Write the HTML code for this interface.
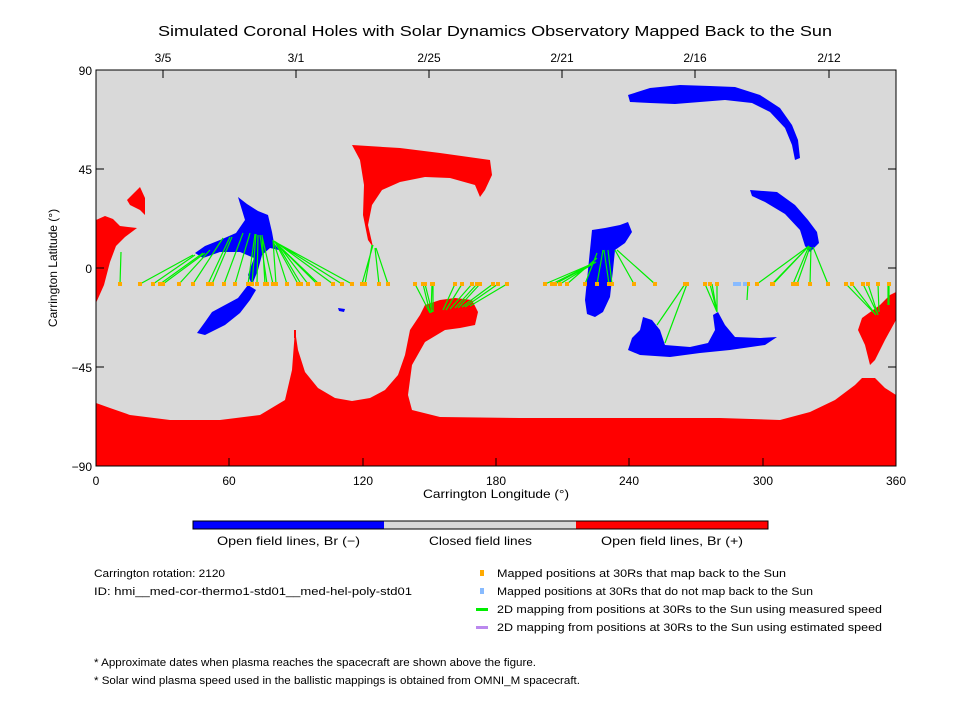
<!DOCTYPE html>
<html><head><meta charset="utf-8"><style>
html,body{margin:0;padding:0;background:#fff;}
svg{display:block;}
text{font-family:"Liberation Sans",sans-serif;fill:#000;}
</style></head><body>
<svg width="960" height="720" viewBox="0 0 960 720" xmlns="http://www.w3.org/2000/svg">
<rect width="960" height="720" fill="#fff"/>
<text x="158" y="36" font-size="15" textLength="674" lengthAdjust="spacingAndGlyphs">Simulated Coronal Holes with Solar Dynamics Observatory Mapped Back to the Sun</text>
<rect x="96" y="70" width="800" height="396" fill="#d9d9d9"/>
<g fill="#ff0000">
<path d="M96,403 L110,408 L130,415 L170,420 L220,420 L260,415 L285,400 L292,370 L295,330 L298,350 L305,372 L318,388 L335,398 L352,401 L370,398 L385,390 L398,375 L405,355 L410,330 L420,315 L425,305 L440,300 L455,298 L472,300 L478,312 L475,325 L460,328 L445,330 L425,342 L412,365 L408,395 L412,410 L440,417 L520,418 L620,418 L720,418 L780,420 L810,412 L835,400 L855,385 L862,378 L875,378 L885,388 L896,395 L896,466 L96,466 Z"/>
<path d="M352,145 L400,148 L440,153 L490,160 L492,175 L485,190 L480,197 L475,185 L450,178 L425,177 L400,182 L382,190 L372,205 L368,225 L373,247 L368,240 L363,215 L364,185 L360,160 Z"/>
<path d="M96,220 L105,216 L113,219 L120,226 L137,228 L125,237 L116,246 L110,262 L104,285 L96,303 Z"/>
<path d="M127,200 L135,192 L140,187 L145,198 L145,215 L140,210 L130,205 Z"/>
<path d="M896,292 L896,320 L885,340 L875,360 L870,365 L865,345 L858,330 L862,318 L880,305 L890,295 Z"/>
<rect x="294" y="330" width="2" height="8"/>
</g>
<g fill="#0000ff">
<path d="M238,197 L247,204 L258,211 L268,215 L272,232 L274,243 L279,250 L270,248 L262,255 L258,270 L252,285 L248,275 L254,258 L240,252 L220,252 L203,258 L195,253 L205,246 L220,240 L236,233 L245,220 Z"/>
<path d="M248,285 L256,290 L250,300 L240,313 L225,325 L205,335 L197,333 L205,322 L212,312 L225,305 L238,298 Z"/>
<path d="M338,308 L345,309 L344,312 L339,311 Z"/>
<path d="M592,230 L605,228 L620,225 L628,222 L632,232 L625,243 L615,250 L613,270 L610,297 L603,312 L595,317 L587,314 L585,300 L588,270 Z"/>
<path d="M643,317 L652,320 L660,330 L665,345 L690,347 L708,343 L715,330 L713,315 L718,312 L725,325 L735,337 L760,338 L777,337 L765,345 L730,350 L700,353 L670,357 L640,355 L628,350 L632,338 L640,330 Z"/>
<path d="M628,95 L650,88 L680,85 L710,86 L735,87 L760,95 L780,108 L792,125 L798,140 L800,158 L795,160 L792,145 L785,128 L770,112 L752,103 L725,100 L700,102 L675,104 L650,103 L630,102 Z"/>
<path d="M750,190 L777,192 L795,205 L808,220 L817,232 L819,243 L810,252 L805,246 L800,230 L785,214 L765,202 L752,196 Z"/>
</g>
<g stroke="#00ee00" stroke-width="1.2" fill="none">
<path d="M120,284L121,252 M140,284L193,255 M153,284L195,255 M160,284L203,253 M163,284L205,253 M179,284L210,250 M193,284L223,238 M208,284L230,237 M212,284L232,237 M224,284L243,233 M235,284L250,233 M248,284L255,234 M252,284L256,234 M257,284L258,235 M265,284L262,235 M267,284L260,235 M273,284L262,236 M276,284L273,240 M287,284L273,240 M298,284L275,242 M301,284L276,242 M308,284L277,243 M317,284L274,241 M319,284L276,243 M333,284L277,243 M342,284L274,241 M352,284L277,243 M362,284L373,245 M365,284L372,245 M379,284L375,248 M388,284L376,248 M415,284L430,313 M423,284L430,313 M425,284L432,312 M432,284L431,313 M433,284L433,312 M455,284L443,310 M462,284L446,310 M472,284L450,309 M477,284L455,308 M480,284L458,308 M493,284L462,307 M498,284L465,307 M507,284L470,306 M545,284L594,263 M552,284L594,263 M555,284L596,262 M560,284L596,262 M567,284L597,258 M585,284L597,253 M597,284L603,250 M609,284L604,250 M612,284L608,250 M634,284L615,250 M655,284L617,250 M685,284L657,325 M687,284L665,343 M705,284L717,312 M710,284L717,312 M712,284L717,312 M717,284L717,312 M748,284L747,300 M757,284L809,246 M772,284L809,246 M773,284L808,247 M793,284L809,246 M797,284L810,247 M810,284L811,247 M828,284L813,247 M846,284L876,315 M852,284L876,315 M863,284L877,313 M868,284L878,315 M878,284L879,312 M889,284L889,305 M888,284L888,305"/>
</g>
<g fill="#ffaa00">
<path d="M118,282h4v4h-4z M138,282h4v4h-4z M151,282h4v4h-4z M158,282h4v4h-4z M161,282h4v4h-4z M177,282h4v4h-4z M191,282h4v4h-4z M206,282h4v4h-4z M210,282h4v4h-4z M222,282h4v4h-4z M233,282h4v4h-4z M246,282h4v4h-4z M250,282h4v4h-4z M255,282h4v4h-4z M263,282h4v4h-4z M265,282h4v4h-4z M271,282h4v4h-4z M274,282h4v4h-4z M285,282h4v4h-4z M296,282h4v4h-4z M299,282h4v4h-4z M306,282h4v4h-4z M315,282h4v4h-4z M317,282h4v4h-4z M331,282h4v4h-4z M340,282h4v4h-4z M350,282h4v4h-4z M360,282h4v4h-4z M363,282h4v4h-4z M377,282h4v4h-4z M386,282h4v4h-4z M413,282h4v4h-4z M421,282h4v4h-4z M423,282h4v4h-4z M430,282h4v4h-4z M431,282h4v4h-4z M453,282h4v4h-4z M460,282h4v4h-4z M470,282h4v4h-4z M475,282h4v4h-4z M478,282h4v4h-4z M491,282h4v4h-4z M496,282h4v4h-4z M505,282h4v4h-4z M543,282h4v4h-4z M550,282h4v4h-4z M553,282h4v4h-4z M558,282h4v4h-4z M565,282h4v4h-4z M583,282h4v4h-4z M595,282h4v4h-4z M607,282h4v4h-4z M610,282h4v4h-4z M632,282h4v4h-4z M653,282h4v4h-4z M683,282h4v4h-4z M685,282h4v4h-4z M703,282h4v4h-4z M708,282h4v4h-4z M715,282h4v4h-4z M746,282h4v4h-4z M755,282h4v4h-4z M770,282h4v4h-4z M771,282h4v4h-4z M791,282h4v4h-4z M795,282h4v4h-4z M808,282h4v4h-4z M826,282h4v4h-4z M844,282h4v4h-4z M850,282h4v4h-4z M861,282h4v4h-4z M866,282h4v4h-4z M876,282h4v4h-4z M887,282h4v4h-4z"/>
</g>
<g fill="#88bbff"><path d="M733,282h8v4h-8z M743,282h4v4h-4z"/></g>
<rect x="96" y="70" width="800" height="396" fill="none" stroke="#000" stroke-width="1"/>
<g stroke="#000" stroke-width="1">
<path d="M96,169h8 M96,268h8 M96,367h8 M888,169h8 M888,268h8 M888,367h8"/>
<path d="M229,466v-8 M363,466v-8 M496,466v-8 M629,466v-8 M763,466v-8"/>
<path d="M163,70v8 M296,70v8 M429,70v8 M562,70v8 M695,70v8 M829,70v8"/>
</g>
<g font-size="12" text-anchor="end">
<text x="92" y="75">90</text><text x="92" y="174">45</text><text x="92" y="273">0</text><text x="92" y="372">−45</text><text x="92" y="471">−90</text>
</g>
<g font-size="12" text-anchor="middle">
<text x="96" y="485">0</text><text x="229" y="485">60</text><text x="363" y="485">120</text><text x="496" y="485">180</text><text x="629" y="485">240</text><text x="763" y="485">300</text><text x="896" y="485">360</text>
<text x="163" y="62">3/5</text><text x="296" y="62">3/1</text><text x="429" y="62">2/25</text><text x="562" y="62">2/21</text><text x="695" y="62">2/16</text><text x="829" y="62">2/12</text>
</g>
<text x="423" y="498" font-size="12" textLength="146" lengthAdjust="spacingAndGlyphs">Carrington Longitude (°)</text>
<text transform="translate(57,268) rotate(-90)" font-size="12" text-anchor="middle">Carrington Latitude (°)</text>
<rect x="193" y="521" width="191" height="8" fill="#0000ff"/>
<rect x="384" y="521" width="192" height="8" fill="#d9d9d9"/>
<rect x="576" y="521" width="192" height="8" fill="#ff0000"/>
<rect x="193" y="521" width="575" height="8" fill="none" stroke="#000" stroke-width="1"/>
<g font-size="12">
<text x="217" y="545" textLength="143" lengthAdjust="spacingAndGlyphs">Open field lines, Br (−)</text>
<text x="429" y="545" textLength="103" lengthAdjust="spacingAndGlyphs">Closed field lines</text>
<text x="601" y="545" textLength="142" lengthAdjust="spacingAndGlyphs">Open field lines, Br (+)</text>
</g>
<g font-size="11">
<text x="94" y="577" textLength="131" lengthAdjust="spacingAndGlyphs">Carrington rotation: 2120</text>
<text x="94" y="595" textLength="318" lengthAdjust="spacingAndGlyphs">ID: hmi__med-cor-thermo1-std01__med-hel-poly-std01</text>
<text x="497" y="577" textLength="289" lengthAdjust="spacingAndGlyphs">Mapped positions at 30Rs that map back to the Sun</text>
<text x="497" y="595" textLength="316" lengthAdjust="spacingAndGlyphs">Mapped positions at 30Rs that do not map back to the Sun</text>
<text x="497" y="613" textLength="385" lengthAdjust="spacingAndGlyphs">2D mapping from positions at 30Rs to the Sun using measured speed</text>
<text x="497" y="631" textLength="385" lengthAdjust="spacingAndGlyphs">2D mapping from positions at 30Rs to the Sun using estimated speed</text>
<text x="94" y="666" textLength="442" lengthAdjust="spacingAndGlyphs">* Approximate dates when plasma reaches the spacecraft are shown above the figure.</text>
<text x="94" y="684" textLength="486" lengthAdjust="spacingAndGlyphs">* Solar wind plasma speed used in the ballistic mappings is obtained from OMNI_M spacecraft.</text>
</g>
<rect x="480" y="570" width="4" height="6" fill="#ffaa00"/>
<rect x="480" y="588" width="4" height="6" fill="#88bbff"/>
<rect x="476" y="608" width="12" height="3" fill="#00ee00"/>
<rect x="476" y="626" width="12" height="3" fill="#bb88ee"/>
</svg>
</body></html>
